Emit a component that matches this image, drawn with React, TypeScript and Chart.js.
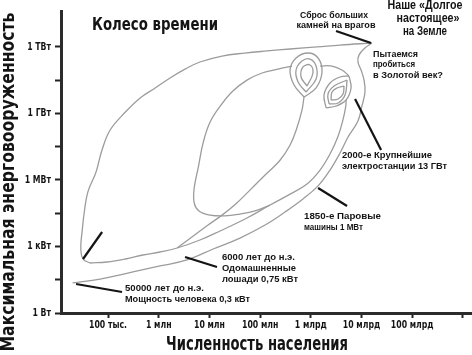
import React, { useEffect, useRef } from "react";
import { Chart, registerables } from "chart.js";

Chart.register(...registerables);

type P = [number, number]; // [population, power in watts]

// Axis ticks
const xTickValues = [1e5, 1e6, 1e7, 1e8, 1e9, 1e10, 1e11, 1e12];
const xTickLabels = ["100 тыс.", "1 млн", "10 млн", "100 млн", "1 млрд", "10 млрд", "100 млрд", ""];
const yTickValues = [1, 31.6, 1e3, 3.16e4, 1e6, 3.16e7, 1e9, 3.16e10, 1e12];
const yTickLabels = ["1 Вт", "", "1 кВт", "", "1 МВт", "", "1 ГВт", "", "1 ТВт"];

// Trajectory strokes
const firstRise: P[] = [
  [2.0e4, 23], [7.0e4, 34], [3.1e5, 71], [1.06e6, 132], [3.6e6, 246], [1.18e7, 770],
  [4.0e7, 2.4e3], [1.25e8, 9.3e3], [3.1e8, 3.6e4], [7.0e8, 1.39e5], [1.39e9, 5.4e5],
  [2.39e9, 2.8e6], [3.77e9, 1.65e7], [5.42e9, 8.7e7], [8.5e9, 4.6e8], [1.02e10, 2.2e9],
  [1.17e10, 9.3e9], [1.12e10, 3.2e10], [9.8e9, 9.1e10], [8.5e9, 2.1e11], [8.9e9, 4.3e11],
  [1.17e10, 9.0e11], [1.61e10, 1.5e12],
];
const collapse: P[] = [
  [1.61e10, 1.5e12], [3.77e9, 1.22e12], [1.33e9, 1.0e12], [3.9e8, 8.1e11], [1.37e8, 6.6e11],
  [5.0e7, 5.3e11], [1.77e7, 3.9e11], [6.5e6, 2.1e11], [3.3e6, 1.0e11], [1.67e6, 4.0e10],
  [8.5e5, 1.41e10], [4.3e5, 5.0e9], [2.2e5, 1.16e9], [1.1e5, 1.8e8], [7.6e4, 2.25e7],
  [5.8e4, 2.3e6], [4.0e4, 2.9e5], [3.4e4, 3.6e4], [3.1e4, 5.5e3], [2.9e4, 860],
  [3.2e4, 273], [4.4e4, 180],
];
const secondRise: P[] = [
  [4.4e4, 180], [9.5e4, 200], [2.2e5, 273], [4.9e5, 413], [1.06e6, 564], [2.3e6, 855],
  [6.5e6, 1.96e3], [1.62e7, 5.0e3], [5.5e7, 1.93e4], [1.57e8, 7.4e4], [3.9e8, 2.3e5],
  [8.4e8, 6.6e5], [1.52e9, 2.8e6], [2.39e9, 1.49e7], [3.4e9, 8.7e7], [4.3e9, 5.1e8],
  [4.9e9, 2.2e9], [4.95e9, 4.05e9],
];
const leafDescent: P[] = [
  [4.26e8, 1.38e11], [2.25e8, 1.0e11], [1.09e8, 6.7e10], [5.5e7, 3.2e10], [2.9e7, 1.03e10],
  [1.69e7, 2.4e9], [1.03e7, 4.1e8], [7.5e6, 4.7e7], [6.0e6, 3.5e6], [5.0e6, 4.3e5],
  [5.0e6, 9.2e4], [6.2e6, 4.0e4], [1.03e7, 2.6e4], [2.0e7, 2.4e4], [4.0e7, 2.9e4],
  [7.9e7, 4.0e4], [1.57e8, 7.4e4],
];
const leafReturn: P[] = [
  [7.34e8, 5.53e9], [6.7e8, 1.44e9], [5.3e8, 2.2e8], [3.9e8, 3.8e7], [2.4e8, 7.2e6],
  [1.31e8, 1.86e6], [6.3e7, 3.5e5], [3.3e7, 8.3e4], [1.77e7, 2.6e4], [9.4e6, 9.3e3],
  [4.8e6, 3.0e3], [2.3e6, 855],
];
// first cluster of loops (~1 млрд people, ~100 ГВт)
const loopOuter: P[] = [
  [7.34e8, 5.53e9], [4.67e8, 1.92e10], [3.89e8, 9.14e10], [5.11e8, 3.18e11], [8.81e8, 5.34e11],
  [1.39e9, 3.18e11], [1.66e9, 7.43e10], [1.27e9, 1.41e10], [7.34e8, 5.53e9],
];
const loopMiddle: P[] = [
  [8.04e8, 9.3e9], [5.6e8, 2.63e10], [5.11e8, 9.14e10], [6.7e8, 2.33e11], [9.64e8, 2.86e11],
  [1.27e9, 1.38e11], [1.27e9, 3.59e10], [8.04e8, 9.3e9],
];
const loopInner: P[] = [
  [8.41e8, 1.73e10], [6.41e8, 4.42e10], [7.02e8, 1.25e11], [9.64e8, 1.54e11], [1.1e9, 6.69e10],
  [8.41e8, 1.73e10],
];
const spiralBridge: P[] = [
  [1.52e9, 1.38e11], [2.62e9, 1.38e11], [4.12e9, 9.14e10], [5.66e9, 4.9e10],
];
// second cluster of loops (~3-5 млрд people)
const almondOuterA: P[] = [[2.0e9, 1.77e9], [1.82e9, 6.81e9], [2.39e9, 2.37e10], [3.77e9, 4.42e10], [5.66e9, 4.9e10]];
const almondOuterB: P[] = [[2.0e9, 1.77e9], [3.14e9, 2.17e9], [4.95e9, 4.05e9], [6.21e9, 1.41e10], [5.66e9, 4.9e10]];
const almondMidA: P[] = [[2.29e9, 2.67e9], [2.18e9, 7.55e9], [2.87e9, 1.73e10], [5.18e9, 3.24e10]];
const almondMidB: P[] = [[2.29e9, 2.67e9], [3.44e9, 2.97e9], [4.73e9, 6.81e9], [5.18e9, 3.24e10]];
const almondInA: P[] = [[2.5e9, 4.05e9], [2.62e9, 9.3e9], [3.29e9, 1.41e10], [4.52e9, 1.73e10]];
const almondInB: P[] = [[2.5e9, 4.05e9], [3.44e9, 4.5e9], [4.32e9, 7.55e9], [4.52e9, 1.73e10]];

const strokes: P[][] = [
  firstRise, collapse, secondRise, leafDescent, leafReturn,
  loopOuter, loopMiddle, loopInner, spiralBridge,
  almondOuterA, almondOuterB, almondMidA, almondMidB, almondInA, almondInB,
];

// Callout leader lines (data coordinates)
const pointers: [P, P][] = [
  [[3.14e9, 5.25e12], [1.54e10, 1.5e12]],
  [[7.45e9, 4.5e9], [2.43e10, 2.25e7]],
  [[1.39e9, 4.35e5], [5.18e9, 6.7e4]],
  [[3.3e6, 336], [1.41e7, 119]],
  [[2.34e4, 20.3], [1.89e5, 8.85]],
  [[3.21e4, 273], [7.63e4, 4.5e3]],
];

const NARROW = '"Liberation Sans Narrow", "DejaVu Sans Condensed", "Roboto", sans-serif';
const SANS = '"Liberation Sans", Arial, "DejaVu Sans", sans-serif';

type Label = { t: string; x: number; y: number; w: number; size: number; align: CanvasTextAlign; narrow?: boolean };
const labels: Label[] = [
  { t: "Колесо времени", x: 155, y: 25, w: 126, size: 18, align: "center", narrow: true },
  { t: "Сброс больших", x: 334, y: 15, w: 68, size: 9.5, align: "center" },
  { t: "камней на врагов", x: 336, y: 25, w: 79, size: 9.5, align: "center" },
  { t: "Наше «Долгое", x: 425, y: 6, w: 75, size: 12, align: "center" },
  { t: "настоящее»", x: 428, y: 19, w: 63, size: 12, align: "center" },
  { t: "на Земле", x: 425, y: 32, w: 44, size: 12, align: "center" },
  { t: "Пытаемся", x: 373, y: 54, w: 45, size: 9.5, align: "left" },
  { t: "пробиться", x: 373, y: 64, w: 42, size: 9.5, align: "left" },
  { t: "в Золотой век?", x: 373, y: 75, w: 70, size: 9.5, align: "left" },
  { t: "2000-е Крупнейшие", x: 342, y: 155, w: 90, size: 9.5, align: "left" },
  { t: "электростанции 13 ГВт", x: 342, y: 166, w: 105, size: 9.5, align: "left" },
  { t: "1850-е Паровые", x: 304, y: 216, w: 77, size: 9.5, align: "left" },
  { t: "машины 1 МВт", x: 304, y: 227, w: 59, size: 9.5, align: "left" },
  { t: "6000 лет до н.э.", x: 222, y: 257, w: 73, size: 9.5, align: "left" },
  { t: "Одомашненные", x: 222, y: 268, w: 74, size: 9.5, align: "left" },
  { t: "лошади 0,75 кВт", x: 222, y: 279, w: 76, size: 9.5, align: "left" },
  { t: "50000 лет до н.э.", x: 125, y: 288, w: 79, size: 9.5, align: "left" },
  { t: "Мощность человека 0,3 кВт", x: 125, y: 299, w: 125, size: 9.5, align: "left" },
];

const INK = "#141414";

function drawFit(
  ctx: CanvasRenderingContext2D, text: string, x: number, y: number, width: number,
  font: string, align: CanvasTextAlign, rotate = 0, fixedScale?: number
) {
  ctx.save();
  ctx.font = font;
  const m = ctx.measureText(text).width || 1;
  const sx = fixedScale !== undefined ? fixedScale : width / m;
  ctx.translate(x, y);
  if (rotate) ctx.rotate(rotate);
  ctx.scale(sx, 1);
  ctx.textAlign = align;
  ctx.textBaseline = "middle";
  ctx.fillStyle = INK;
  ctx.fillText(text, 0, 0);
  ctx.restore();
}

const overlay = {
  id: "wheelOverlay",
  afterDraw(chart: any) {
    const ctx: CanvasRenderingContext2D = chart.ctx;
    const xs = chart.scales.x;
    const ys = chart.scales.y;

    ctx.save();
    ctx.strokeStyle = INK;
    ctx.lineWidth = 2.2;
    for (const [a, b] of pointers) {
      ctx.beginPath();
      ctx.moveTo(xs.getPixelForValue(a[0]), ys.getPixelForValue(a[1]));
      ctx.lineTo(xs.getPixelForValue(b[0]), ys.getPixelForValue(b[1]));
      ctx.stroke();
    }
    ctx.restore();

    // tick labels
    const tickFont = `bold 11px ${NARROW}`;
    ctx.save();
    ctx.font = tickFont;
    const k = 38 / (ctx.measureText("100 тыс.").width || 38);
    ctx.restore();
    xTickValues.forEach((v, i) => {
      if (!xTickLabels[i]) return;
      drawFit(ctx, xTickLabels[i], xs.getPixelForValue(v), 325, 0, tickFont, "center", 0, k);
    });
    yTickValues.forEach((v, i) => {
      if (!yTickLabels[i]) return;
      drawFit(ctx, yTickLabels[i], 51, ys.getPixelForValue(v), 0, tickFont, "right", 0, k);
    });

    // axis titles
    drawFit(ctx, "Численность населения", 257, 345, 182, `bold 19px ${NARROW}`, "center");
    drawFit(ctx, "Максимальная энерговооруженность", 9, 182, 339, `bold 19px ${NARROW}`, "center", -Math.PI / 2);

    for (const l of labels) {
      const font = `bold ${l.size}px ${l.narrow ? NARROW : SANS}`;
      drawFit(ctx, l.t, l.x, l.y, l.w, font, l.align);
    }
  },
};

export default function App() {
  const ref = useRef<HTMLCanvasElement | null>(null);
  useEffect(() => {
    if (!ref.current) return;
    const axisCommon = {
      type: "logarithmic" as const,
      ticks: { display: false },
      grid: {
        display: true, drawOnChartArea: false, drawTicks: true,
        tickWidth: 2, tickColor: "#222", color: "#222",
      },
      border: { display: true, color: "#2b2b2b", width: 3 },
    };
    const chart = new Chart(ref.current, {
      type: "scatter",
      data: {
        datasets: strokes.map((s) => ({
          data: s.map(([x, y]) => ({ x, y })),
          showLine: true,
          borderColor: "#9c9c9c",
          borderWidth: 1.3,
          pointRadius: 0,
          tension: 0.4,
          fill: false,
        })),
      },
      options: {
        animation: false,
        responsive: false,
        devicePixelRatio: 1,
        events: [],
        layout: { padding: { top: 11, right: 0, bottom: 0, left: 0 } },
        plugins: { legend: { display: false }, tooltip: { enabled: false }, title: { display: false } },
        scales: {
          x: {
            ...axisCommon,
            min: 1.18e4,
            max: 1.51e12,
            grid: { ...axisCommon.grid, tickLength: 5 },
            afterBuildTicks: (s: any) => { s.ticks = xTickValues.map((v) => ({ value: v })); },
            afterFit: (s: any) => { s.height = 42; },
          },
          y: {
            ...axisCommon,
            min: 1,
            max: 4.19e13,
            grid: { ...axisCommon.grid, tickLength: 6 },
            afterBuildTicks: (s: any) => { s.ticks = yTickValues.map((v) => ({ value: v })); },
            afterFit: (s: any) => { s.width = 61; },
          },
        },
      } as any,
      plugins: [overlay],
    });
    return () => chart.destroy();
  }, []);

  return (
    <div style={{ position: "absolute", left: 0, top: 0, width: 472, height: 355, background: "#fff" }}>
      <canvas ref={ref} width={472} height={355} style={{ display: "block" }} />
    </div>
  );
}
